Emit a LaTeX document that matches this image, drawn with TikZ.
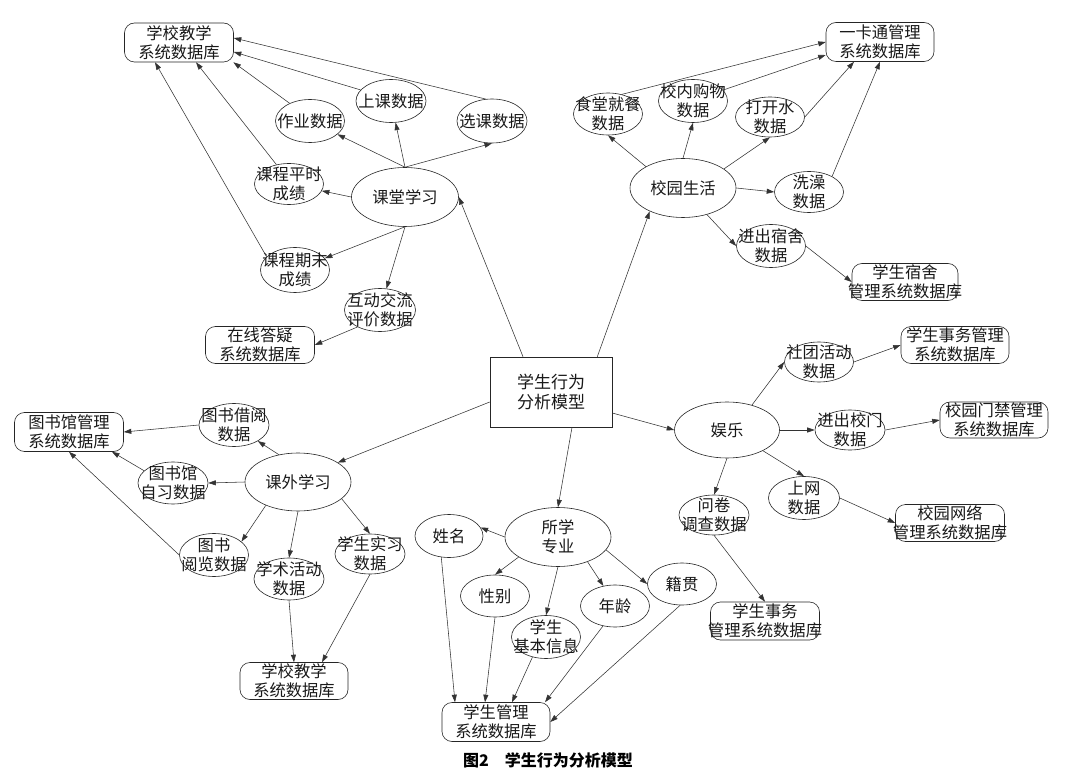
\documentclass[tikz,border=0pt]{standalone}
\usepackage{fontspec}
\newfontfamily\cjk{Noto Sans CJK SC}
\usetikzlibrary{shapes.geometric,arrows.meta}
\tikzset{
  el/.style={ellipse, draw=black!85, line width=0.6pt, inner sep=0pt, minimum width=69pt, minimum height=42pt},
  db/.style={rectangle, rounded corners=10pt, draw=black!85, line width=0.6pt, inner sep=0pt, minimum width=108pt, minimum height=38pt},
  tx/.style={align=center, font=\cjk\fontsize{16.3}{19}\selectfont, inner sep=0pt, text=black!90},
  arr/.style={draw=black!80, line width=0.55pt, -{Triangle[length=7.5pt,width=5pt]}},
}
\begin{document}
\begin{tikzpicture}[x=1pt,y=-1pt]
\fill[white] (0,0) rectangle (1065,775);
\useasboundingbox (0,0) rectangle (1065,775);

% ---------- root
\node[rectangle, draw=black!85, line width=0.6pt, minimum width=122pt, minimum height=70pt, inner sep=0pt,
      label={[tx, font=\cjk\fontsize{17}{20}\selectfont]center:{学生行为\\分析模型}}] (root) at (551,392) {};

% ---------- classroom cluster
\node[db, minimum width=109pt, minimum height=39pt, label={[tx]center:{学校教学\\系统数据库}}] (jx1) at (179,42.5) {};
\node[el, minimum width=70pt, minimum height=43pt, label={[tx]center:{上课数据}}] (skd) at (391,101) {};
\node[el, minimum width=70pt, minimum height=44pt, label={[tx]center:{选课数据}}] (xkd) at (492,121) {};
\node[el, minimum width=69pt, minimum height=43pt, label={[tx]center:{作业数据}}] (zyd) at (310,121) {};
\node[el, minimum width=69pt, minimum height=41pt, label={[tx]center:{课程平时\\成绩}}] (psc) at (289,184) {};
\node[el, minimum width=107pt, minimum height=59pt, label={[tx]center:{课堂学习}}] (ktxx) at (405,197) {};
\node[el, minimum width=69pt, minimum height=45pt, label={[tx]center:{课程期末\\成绩}}] (qmc) at (295,270) {};
\node[el, minimum width=71pt, minimum height=43pt, label={[tx]center:{互动交流\\评价数据}}] (hdj) at (380,310) {};
\node[db, minimum width=109pt, minimum height=37pt, label={[tx]center:{在线答疑\\系统数据库}}] (zxdy) at (260,345) {};

% ---------- campus life cluster
\node[db, minimum width=108pt, minimum height=39pt, label={[tx]center:{一卡通管理\\系统数据库}}] (ykt) at (880,42) {};
\node[el, minimum width=69pt, minimum height=42pt, label={[tx]center:{食堂就餐\\数据}}] (std) at (608,114) {};
\node[el, minimum width=69pt, minimum height=43pt, label={[tx]center:{校内购物\\数据}}] (gwd) at (693,101) {};
\node[el, minimum width=69pt, minimum height=40pt, label={[tx]center:{打开水\\数据}}] (ksd) at (770,117) {};
\node[el, minimum width=106pt, minimum height=59pt, label={[tx]center:{校园生活}}] (xyh) at (683,188) {};
\node[el, minimum width=69pt, minimum height=41pt, label={[tx]center:{洗澡\\数据}}] (xzd) at (809,192) {};
\node[el, minimum width=69pt, minimum height=43pt, label={[tx]center:{进出宿舍\\数据}}] (ssd) at (771,246) {};
\node[db, minimum width=106pt, minimum height=37pt, label={[tx]center:{学生宿舍\\管理系统数据库}}] (sssj) at (905,282) {};

% ---------- entertainment cluster
\node[db, minimum width=108pt, minimum height=37pt, label={[tx]center:{学生事务管理\\系统数据库}}] (xsw1) at (955,345) {};
\node[el, minimum width=69pt, minimum height=40pt, label={[tx]center:{社团活动\\数据}}] (stc) at (819,362) {};
\node[el, minimum width=105pt, minimum height=56pt, label={[tx]center:{娱乐}}] (yl) at (727,430) {};
\node[el, minimum width=70pt, minimum height=40pt, label={[tx]center:{进出校门\\数据}}] (xmd) at (850,430) {};
\node[db, minimum width=108pt, minimum height=36pt, label={[tx]center:{校园门禁管理\\系统数据库}}] (mj) at (994,420) {};
\node[el, minimum width=71pt, minimum height=43pt, label={[tx]center:{上网\\数据}}] (swd) at (804,498) {};
\node[db, minimum width=109pt, minimum height=37pt, label={[tx]center:{校园网络\\管理系统数据库}}] (wl) at (950,523) {};
\node[el, minimum width=70pt, minimum height=40pt, label={[tx]center:{问卷\\调查数据}}] (wjd) at (714,515) {};
\node[db, minimum width=109pt, minimum height=38pt, label={[tx]center:{学生事务\\管理系统数据库}}] (xsw2) at (765,621) {};

% ---------- extracurricular cluster
\node[db, minimum width=109pt, minimum height=39pt, label={[tx]center:{图书馆管理\\系统数据库}}] (tsg) at (69,432) {};
\node[el, minimum width=70pt, minimum height=43pt, label={[tx]center:{图书借阅\\数据}}] (jyd) at (234,425) {};
\node[el, minimum width=70pt, minimum height=42pt, label={[tx]center:{图书馆\\自习数据}}] (zxi) at (173,483) {};
\node[el, minimum width=106pt, minimum height=58pt, label={[tx]center:{课外学习}}] (kw) at (298,482) {};
\node[el, minimum width=69pt, minimum height=43pt, label={[tx]center:{图书\\阅览数据}}] (ylan) at (214,555) {};
\node[el, minimum width=70pt, minimum height=42pt, label={[tx]center:{学术活动\\数据}}] (xsd) at (289,579) {};
\node[el, minimum width=70pt, minimum height=40pt, label={[tx]center:{学生实习\\数据}}] (sxd) at (370,554) {};
\node[db, minimum width=108pt, minimum height=37pt, label={[tx]center:{学校教学\\系统数据库}}] (jx2) at (294,681) {};

% ---------- personal info cluster
\node[el, minimum width=68pt, minimum height=43pt, label={[tx]center:{姓名}}] (xm) at (449,536) {};
\node[el, minimum width=106pt, minimum height=59pt, label={[tx]center:{所学\\专业}}] (zyz) at (558,537) {};
\node[el, minimum width=69pt, minimum height=42pt, label={[tx]center:{性别}}] (xb) at (495,596) {};
\node[el, minimum width=69pt, minimum height=43pt, label={[tx]center:{学生\\基本信息}}] (jb) at (546,637) {};
\node[el, minimum width=69pt, minimum height=42pt, label={[tx]center:{年龄}}] (nl) at (615,606) {};
\node[el, minimum width=69pt, minimum height=42pt, label={[tx]center:{籍贯}}] (jg) at (682,584) {};
\node[db, minimum width=108pt, minimum height=39pt, label={[tx]center:{学生管理\\系统数据库}}] (xsg) at (496,722) {};

% ---------- caption
\node[font=\cjk\bfseries\fontsize{16}{18}\selectfont, inner sep=0pt] (cap) at (548,760) {图2\hspace{1em}学生行为分析模型};

% ========== connectors
% classroom
\draw[arr] ([xshift=-28pt]root.north) -- (ktxx.east);
\draw[arr] (ktxx.north) -- (zyd);
\draw[arr] (ktxx.north) -- (skd);
\draw[arr] (ktxx.north) -- (xkd.south);
\draw[arr] (ktxx.west) -- (psc);
\draw[arr] (ktxx.south) -- (qmc);
\draw[arr] (ktxx.south) -- (hdj);
\draw[arr] (hdj.217) -- (zxdy.east);
\draw[arr] (zyd.139) -- (jx1.-20);
\draw[arr] (skd.160) -- ([yshift=-9.5pt]jx1.east);
\draw[arr] (xkd.106) -- ([yshift=4.5pt]jx1.east);
\draw[arr] (psc.123) -- ([xshift=17pt]jx1.south);
\draw[arr] (qmc.155) -- ([xshift=-24pt]jx1.south);

% campus life
\draw[arr] ([xshift=-15pt]root.north east) -- (xyh.215);
\draw[arr] (xyh.150) -- (std.south);
\draw[arr] (xyh.north) -- (gwd.south);
\draw[arr] (xyh.25) -- (ksd.south);
\draw[arr] (xyh.east) -- (xzd.west);
\draw[arr] (xyh.-48) -- (ssd.west);
\draw[arr] (std.55) -- (ykt.west);
\draw[arr] (gwd.20) -- ([yshift=-13pt]ykt.west);
\draw[arr] (ksd.east) -- ([xshift=-26pt]ykt.south);
\draw[arr] (xzd.34) -- (ykt.south);
\draw[arr] (ssd.east) -- (sssj.west);

% entertainment
\draw[arr] ([yshift=-21pt]root.east) -- (yl.west);
\draw[arr] (yl.45) -- (stc.west);
\draw[arr] (stc.east) -- (xsw1.west);
\draw[arr] (yl.east) -- (xmd.west);
\draw[arr] (xmd.east) -- (mj.west);
\draw[arr] (yl.-30) -- (swd.north);
\draw[arr] (swd.east) -- (wl.west);
\draw[arr] (yl.south) -- (wjd.north);
\draw[arr] (wjd.south) -- (xsw2.north);

% extracurricular
\draw[arr] ([yshift=-10pt]root.west) -- (kw.26);
\draw[arr] (kw.125) -- (jyd.-34);
\draw[arr] (jyd.west) -- (tsg.east);
\draw[arr] (kw.west) -- (zxi.east);
\draw[arr] (zxi.157) -- ([xshift=43pt]tsg.south);
\draw[arr] (ylan.west) -- (tsg.south);
\draw[arr] (kw.216) -- (ylan.26);
\draw[arr] (kw.south) -- (xsd.north);
\draw[arr] (kw.-21) -- (sxd.north);
\draw[arr] (xsd.south) -- (jx2.north);
\draw[arr] (sxd.south) -- ([xshift=28pt]jx2.north);

% personal info
\draw[arr] ([xshift=21pt]root.south) -- (zyz.north);
\draw[arr] (zyz.west) -- (xm.15);
\draw[arr] (zyz.207) -- (xb.north);
\draw[arr] (zyz.south) -- (jb.north);
\draw[arr] (zyz.-40) -- (nl.120);
\draw[arr] (zyz.-15) -- (jg.west);
\draw[arr] (xm.250) -- ([xshift=-41pt]xsg.north);
\draw[arr] (xb.south) -- ([xshift=-11pt]xsg.north);
\draw[arr] (jb.236) -- ([xshift=16pt]xsg.north);
\draw[arr] (nl.239) -- (xsg.22);
\draw[arr] (jg.265) -- (xsg.east);
\end{tikzpicture}
\end{document}
